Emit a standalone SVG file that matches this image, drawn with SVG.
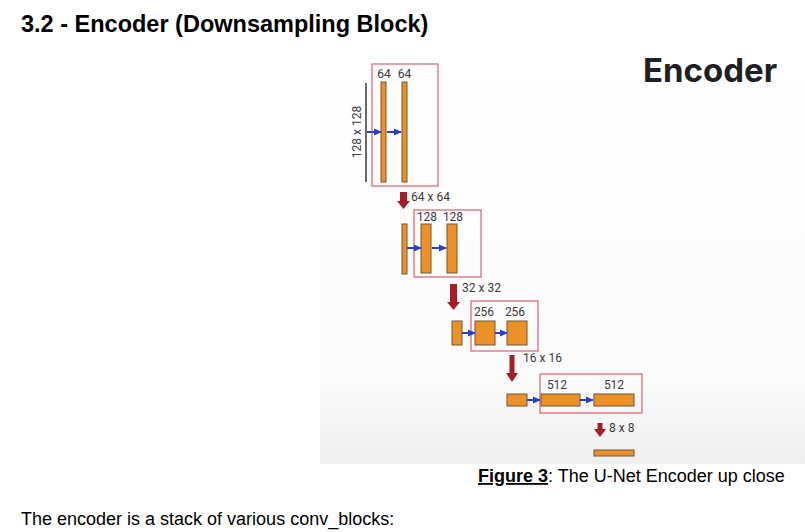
<svg xmlns="http://www.w3.org/2000/svg" width="805" height="532" viewBox="0 0 805 532">
<defs>
<linearGradient id="bg" x1="0" y1="0" x2="0" y2="1">
<stop offset="0" stop-color="#ffffff"/>
<stop offset="0.8" stop-color="#fbfbfb"/>
<stop offset="1" stop-color="#efefef"/>
</linearGradient>
<marker id="blue" markerWidth="8" markerHeight="8" refX="7" refY="4" orient="auto" markerUnits="userSpaceOnUse">
<path d="M0,0.5 L8,4 L0,7.5 Z" fill="#2b3ec9"/>
</marker>
<style>
.bar{fill:#ec9128;stroke:#6e5836;stroke-width:1}
.box{fill:none;stroke:#e06a78;stroke-width:1.3}
.lbl{font-family:Roboto,"Noto Sans",sans-serif;font-size:12px;fill:#3a3a3a}
.ba{stroke:#2b3ec9;stroke-width:2;fill:none;marker-end:url(#blue)}
.ra{fill:#a51d27}
.doc{font-family:"Liberation Sans",Arial,sans-serif;fill:#000}
</style>
</defs>
<rect width="805" height="532" fill="#ffffff"/>
<rect x="320" y="45" width="485" height="419" fill="url(#bg)"/>
<text class="doc" x="21" y="32" font-size="23.5" font-weight="bold">3.2 - Encoder (Downsampling Block)</text>
<text x="643" y="82" font-family="Inter,'Open Sans',sans-serif" font-weight="bold" font-size="33" fill="#1f1f24">Encoder</text>

<g id="level1">
<line x1="366" y1="83" x2="366" y2="182" stroke="#444" stroke-width="1.6"/>
<text class="lbl" transform="translate(361,132) rotate(-90)" text-anchor="middle">128 x 128</text>
<rect class="box" x="372" y="64" width="66" height="122"/>
<text class="lbl" x="384" y="78" text-anchor="middle">64</text>
<text class="lbl" x="404.5" y="78" text-anchor="middle">64</text>
<rect class="bar" x="381" y="82" width="5" height="100"/>
<rect class="bar" x="402" y="82" width="5" height="100"/>
</g>

<g id="level2">
<text class="lbl" x="411" y="201">64 x 64</text>
<rect class="bar" x="402" y="224" width="5" height="50"/>
<rect class="box" x="414" y="210" width="67" height="67"/>
<text class="lbl" x="427" y="221" text-anchor="middle">128</text>
<text class="lbl" x="453" y="221" text-anchor="middle">128</text>
<rect class="bar" x="421" y="224" width="10" height="49"/>
<rect class="bar" x="447" y="224" width="10" height="49"/>
</g>

<g id="level3">
<text class="lbl" x="462" y="292">32 x 32</text>
<rect class="bar" x="452" y="321" width="10" height="24"/>
<rect class="box" x="471" y="301" width="67" height="50"/>
<text class="lbl" x="484" y="316" text-anchor="middle">256</text>
<text class="lbl" x="515" y="316" text-anchor="middle">256</text>
<rect class="bar" x="475" y="321" width="20" height="24"/>
<rect class="bar" x="507" y="321" width="20" height="24"/>
</g>

<g id="level4">
<text class="lbl" x="523" y="362">16 x 16</text>
<rect class="bar" x="507" y="394" width="20" height="12"/>
<rect class="box" x="540" y="374" width="102" height="39"/>
<text class="lbl" x="557" y="389" text-anchor="middle">512</text>
<text class="lbl" x="614" y="389" text-anchor="middle">512</text>
<rect class="bar" x="541" y="394" width="39" height="12"/>
<rect class="bar" x="594" y="394" width="40" height="12"/>
</g>

<g id="level5">
<text class="lbl" x="609" y="432">8 x 8</text>
<rect class="bar" x="594" y="450" width="40" height="6"/>
</g>

<g id="connectors">
<line class="ba" x1="367" y1="132" x2="381" y2="132"/>
<line class="ba" x1="387" y1="132" x2="401" y2="132"/>
<line class="ba" x1="407" y1="248" x2="421" y2="248"/>
<line class="ba" x1="432" y1="248" x2="446" y2="248"/>
<line class="ba" x1="462" y1="333" x2="475" y2="333"/>
<line class="ba" x1="495" y1="333" x2="507" y2="333"/>
<line class="ba" x1="527" y1="400" x2="540" y2="400"/>
<line class="ba" x1="580" y1="400" x2="593" y2="400"/>
<path class="ra" d="M400,192 H407 V201 H410 L403.5,209 L397,201 H400 Z"/>
<path class="ra" d="M450,284 H457 V302 H460 L453.5,310 L447,302 H450 Z"/>
<path class="ra" d="M509.5,355 H514.5 V373 H518 L512,382 L506,373 H509.5 Z"/>
<path class="ra" d="M597.5,423 H602.5 V429 H606 L600,437 L594,429 H597.5 Z"/>
</g>

<g id="caption">
<text class="doc" x="478" y="482" font-size="18"><tspan font-weight="bold" text-decoration="underline">Figure 3</tspan>: The U-Net Encoder up close</text>
</g>
<text class="doc" x="21" y="525" font-size="18">The encoder is a stack of various conv_blocks:</text>
</svg>
